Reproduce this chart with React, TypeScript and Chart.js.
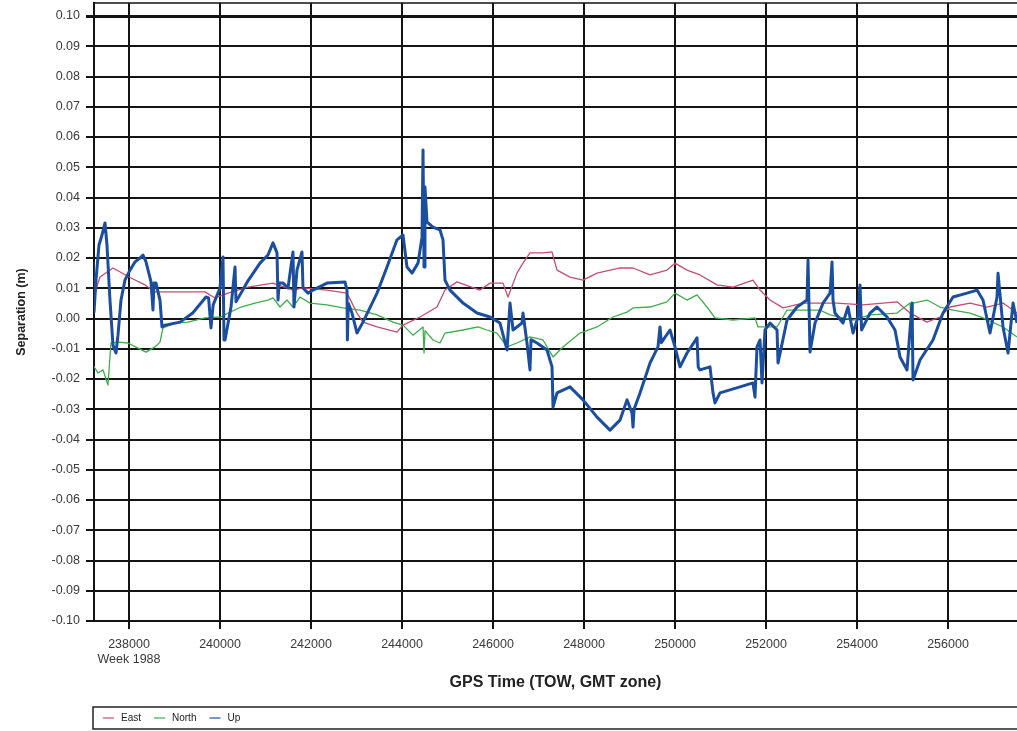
import React, { useEffect, useRef } from 'react';
import { Chart, registerables } from 'chart.js';

Chart.register(...registerables);

// ---- Axis ticks ----
const xTicks = [238000, 240000, 242000, 244000, 246000, 248000, 250000, 252000, 254000, 256000];
const yTicks = [-0.1, -0.09, -0.08, -0.07, -0.06, -0.05, -0.04, -0.03, -0.02, -0.01, 0, 0.01, 0.02, 0.03, 0.04, 0.05, 0.06, 0.07, 0.08, 0.09, 0.1];
const X_MIN = 237231;
const X_MAX = 257516;
const Y_MIN = -0.1;
const Y_MAX = 0.1043;

// ---- Series: East ----
const eastTow = [
  237209, 237363, 237648, 238044, 238352, 238571, 239297, 239670, 239890, 240176,
  240615, 241165, 241604, 241824, 242352, 242791, 243011, 243143, 243451, 243890,
  244022, 244396, 244769, 244945, 245209, 245714, 245934, 246220, 246330, 246527,
  246659, 246813, 247099, 247297, 247407, 247692, 247978, 248286, 248791, 249077,
  249451, 249824, 250000, 250264, 250549, 250923, 251275, 251714, 251868, 252088,
  252374, 252813, 253560, 254132, 254879, 255165, 255538, 255824, 256044, 256484,
  256857, 257209, 257516,
];
const eastVal = [
  0.0068, 0.0137, 0.0167, 0.0134, 0.0111, 0.0088, 0.0088, 0.0088, 0.0068, 0.0084,
  0.0104, 0.0117, 0.0094, 0.0101, 0.0094, 0.0084, 0.0018, -0.0012, -0.0028, -0.0045,
  -0.0022, 0.0005, 0.0038, 0.0094, 0.0121, 0.0094, 0.0117, 0.0117, 0.0071, 0.015,
  0.0183, 0.0217, 0.0217, 0.022, 0.016, 0.0137, 0.0127, 0.015, 0.0167, 0.0167,
  0.0144, 0.016, 0.0183, 0.016, 0.0144, 0.0111, 0.0104, 0.0127, 0.0094, 0.0061,
  0.0035, 0.0051, 0.0051, 0.0045, 0.0055, 0.0018, -0.0012, 0.0005, 0.0038, 0.0051,
  0.0038, 0.0051, 0.0018,
];

// ---- Series: North ----
const northTow = [
  237209, 237319, 237429, 237538, 237604, 237758, 237978, 238198, 238374, 238571,
  238681, 238747, 239011, 239297, 239670, 240022, 240176, 240462, 240769, 241055,
  241165, 241319, 241473, 241604, 241758, 241978, 242352, 242703, 243077, 243451,
  243802, 244022, 244242, 244462, 244484, 244506, 244681, 244835, 244945, 245341,
  245670, 245868, 246088, 246308, 246527, 246813, 247099, 247319, 247538, 247912,
  248286, 248637, 248945, 249077, 249451, 249824, 250000, 250264, 250484, 250703,
  250879, 251275, 251758, 251824, 252242, 252462, 253187, 253407, 253912, 254286,
  254879, 255165, 255209, 255231, 255538, 255824, 256110, 256484, 256769, 257209,
  257516,
];
const northVal = [
  -0.0154, -0.018, -0.017, -0.022, -0.0081, -0.0078, -0.0081, -0.0098, -0.0111, -0.0094,
  -0.0078, -0.0031, -0.0015, -0.0012, 0.0002, 0.0005, 0.0018, 0.0038, 0.0051, 0.0061,
  0.0068, 0.0038, 0.0061, 0.0038, 0.0071, 0.0051, 0.0045, 0.0035, 0.0028, 0.0012,
  -0.0012, -0.0022, -0.0055, -0.0028, -0.0114, -0.004, -0.0071, -0.0081, -0.0048, -0.0038,
  -0.0028, -0.0038, -0.0048, -0.0094, -0.0081, -0.0061, -0.0071, -0.0127, -0.0094, -0.0048,
  -0.0028, 0.0005, 0.0021, 0.0035, 0.0038, 0.0055, 0.0084, 0.0061, 0.0078, 0.0038,
  0.0002, -0.0005, 0.0002, -0.0028, -0.0028, 0.0028, 0.0028, 0.0012, -0.0005, 0.0012,
  0.0018, 0.0051, -0.0088, 0.0051, 0.0061, 0.0038, 0.0028, 0.0018, 0.0002, -0.0028,
  -0.0061,
];

// ---- Series: Up ----
const upTow = [
  237209, 237231, 237275, 237341, 237407, 237473, 237516, 237582, 237648, 237714,
  237758, 237824, 237912, 238022, 238132, 238242, 238308, 238374, 238484, 238527,
  238550, 238593, 238681, 238725, 238791, 239121, 239400, 239692, 239750, 239802,
  239850, 240000, 240066, 240088, 240110, 240242, 240330, 240352, 240600, 240879,
  241055, 241165, 241253, 241275, 241300, 241385, 241495, 241604, 241626, 241692,
  241802, 241824, 241934, 242044, 242352, 242747, 242791, 242800, 242820, 242901,
  243011, 243143, 243451, 243670, 243890, 244022, 244110, 244220, 244352, 244440,
  244462, 244484, 244505, 244549, 244681, 244835, 244901, 244945, 245055, 245341,
  245648, 245934, 246154, 246308, 246374, 246440, 246637, 246659, 246747, 246813,
  246835, 246967, 247187, 247297, 247319, 247407, 247692, 247978, 248286, 248571,
  248791, 248945, 249055, 249077, 249100, 249231, 249451, 249626, 249670, 249700,
  249890, 250000, 250110, 250264, 250484, 250510, 250549, 250769, 250835, 250879,
  250989, 251429, 251714, 251758, 251802, 251868, 251912, 251978, 252088, 252242,
  252264, 252462, 252681, 252901, 252923, 252967, 253077, 253253, 253407, 253451,
  253473, 253516, 253692, 253802, 253912, 254022, 254066, 254100, 254286, 254440,
  254659, 254835, 254945, 255099, 255209, 255231, 255385, 255670, 255890, 256110,
  256418, 256637, 256769, 256923, 257077, 257099, 257209, 257319, 257429, 257516,
];
const upVal = [
  0.0187, 0.0021, 0.0127, 0.0243, 0.0276, 0.0316, 0.0243, 0.0061, -0.0088, -0.0114,
  -0.0055, 0.0061, 0.0127, 0.016, 0.0187, 0.02, 0.021, 0.0187, 0.0121, 0.0028,
  0.0117, 0.0117, 0.0061, -0.0028, -0.0022, -0.0012, 0.0018, 0.0071, 0.0068, -0.0031,
  0.0045, 0.0101, 0.0203, -0.0071, -0.0071, 0.0038, 0.017, 0.0055, 0.0121, 0.0183,
  0.021, 0.025, 0.0217, 0.0061, 0.0117, 0.0117, 0.0101, 0.022, 0.0038, 0.016,
  0.022, 0.0101, 0.0084, 0.0094, 0.0117, 0.0121, 0.0094, -0.0071, 0.005, 0.0018,
  -0.0048, -0.0012, 0.0084, 0.017, 0.026, 0.0276, 0.017, 0.015, 0.0183, 0.0269,
  0.0557, 0.017, 0.0435, 0.0319, 0.0302, 0.0293, 0.026, 0.0127, 0.0094, 0.0051,
  0.0018, 0.0005, -0.0015, -0.0104, 0.0051, -0.0038, -0.0015, 0.0018, -0.0081, -0.017,
  -0.007, -0.0081, -0.0104, -0.016, -0.0293, -0.0246, -0.0226, -0.0269, -0.0326, -0.0369,
  -0.0336, -0.0269, -0.0312, -0.0359, -0.03, -0.0246, -0.0147, -0.0094, -0.0028, -0.008,
  -0.0038, -0.0094, -0.016, -0.0114, -0.0064, -0.016, -0.017, -0.016, -0.0246, -0.0279,
  -0.0246, -0.0226, -0.0213, -0.026, -0.0094, -0.0071, -0.0213, -0.0038, -0.0015, -0.0038,
  -0.0147, -0.0005, 0.0038, 0.0061, 0.0193, -0.0111, -0.0015, 0.0051, 0.0084, 0.0187,
  0.006, 0.0018, -0.0015, 0.0038, -0.0048, 0.0005, 0.0111, -0.0038, 0.0018, 0.0038,
  0.0005, -0.0038, -0.0127, -0.017, 0.0051, -0.0203, -0.0137, -0.0071, 0.0018, 0.0071,
  0.0084, 0.0094, 0.0061, -0.0048, 0.0071, 0.015, -0.0028, -0.0114, 0.0051, -0.0015,
];

const seriesNames = ['East', 'North', 'Up'];
const seriesColors = ['#c54d70', '#3fae4a', '#1b4e9e'];

function pts(xs: number[], ys: number[]) {
  const n = Math.min(xs.length, ys.length);
  const out: { x: number; y: number }[] = [];
  for (let i = 0; i < n; i++) out.push({ x: xs[i], y: ys[i] });
  return out;
}

const FONT = "'Liberation Sans', Arial, Helvetica, sans-serif";

export default function App() {
  const ref = useRef<HTMLCanvasElement>(null);

  useEffect(() => {
    if (!ref.current) return;
    Chart.defaults.font.family = FONT;

    const framePlugin = {
      id: 'frameTop',
      afterDraw(chart: any) {
        const { ctx, chartArea, width } = chart;
        ctx.save();
        ctx.strokeStyle = '#111';
        ctx.lineWidth = 1.5;
        ctx.beginPath();
        ctx.moveTo(chartArea.left - 1, chartArea.top);
        ctx.lineTo(width, chartArea.top);
        ctx.stroke();
        ctx.restore();
      },
    };

    const legendPlugin = {
      id: 'boxLegend',
      afterDraw(chart: any) {
        const { ctx, chartArea, width, height } = chart;
        const top = height - 24;
        const boxH = 22;
        ctx.save();
        ctx.strokeStyle = '#222';
        ctx.lineWidth = 1.5;
        ctx.strokeRect(chartArea.left - 1, top, width, boxH);
        ctx.font = `10px ${FONT}`;
        ctx.textBaseline = 'middle';
        ctx.textAlign = 'left';
        const cy = top + boxH / 2;
        let x = chartArea.left + 9;
        chart.data.datasets.forEach((ds: any) => {
          ctx.strokeStyle = ds.borderColor;
          ctx.lineWidth = 1.2;
          ctx.beginPath();
          ctx.moveTo(x, cy);
          ctx.lineTo(x + 11, cy);
          ctx.stroke();
          x += 18;
          ctx.fillStyle = '#222';
          ctx.fillText(ds.label, x, cy);
          x += ctx.measureText(ds.label).width + 13;
        });
        ctx.restore();
      },
    };

    const chart = new Chart(ref.current, {
      type: 'line',
      data: {
        datasets: [
          { label: seriesNames[0], data: pts(eastTow, eastVal), borderColor: seriesColors[0], borderWidth: 1.3, order: 1 },
          { label: seriesNames[1], data: pts(northTow, northVal), borderColor: seriesColors[1], borderWidth: 1.3, order: 2 },
          { label: seriesNames[2], data: pts(upTow, upVal), borderColor: seriesColors[2], borderWidth: 3, order: 0 },
        ],
      },
      options: {
        responsive: false,
        animation: false,
        devicePixelRatio: 1,
        layout: { padding: { top: 3, left: 0, right: 0, bottom: 30 } },
        elements: { point: { radius: 0 }, line: { tension: 0, borderJoinStyle: 'round' } },
        plugins: { legend: { display: false }, tooltip: { enabled: false } },
        scales: {
          x: {
            type: 'linear',
            min: X_MIN,
            max: X_MAX,
            afterBuildTicks: (s: any) => { s.ticks = xTicks.map((v) => ({ value: v })); },
            afterFit: (s: any) => { s.height = 80; s.paddingLeft = 0; s.paddingRight = 0; },
            grid: { color: '#141414', lineWidth: 2, tickLength: 8, drawTicks: true },
            border: { display: true, color: '#141414', width: 2 },
            ticks: {
              autoSkip: false,
              maxRotation: 0,
              padding: 8,
              color: '#3a3a3a',
              font: { size: 12.5 },
              callback: (v: any) => (v === xTicks[0] ? [String(v), 'Week 1988'] : String(v)),
            },
            title: {
              display: true,
              text: 'GPS Time (TOW, GMT zone)',
              color: '#222',
              font: { size: 16, weight: 'bold' },
              padding: { top: 4, bottom: 9 },
            },
          },
          y: {
            type: 'linear',
            min: Y_MIN,
            max: Y_MAX,
            afterBuildTicks: (s: any) => { s.ticks = yTicks.map((v) => ({ value: v })); },
            afterFit: (s: any) => { s.width = 94; s.paddingTop = 0; s.paddingBottom = 0; },
            grid: {
              color: '#141414',
              lineWidth: (c: any) => (c.tick && Math.abs(c.tick.value - 0.1) < 1e-9 ? 3 : 2),
              tickLength: 8,
              drawTicks: true,
            },
            border: { display: true, color: '#141414', width: 2 },
            ticks: {
              padding: 6,
              color: '#3a3a3a',
              font: { size: 12.5 },
              callback: (v: any) => (Math.abs(v) < 1e-9 ? '0.00' : Number(v).toFixed(2)),
            },
            title: {
              display: true,
              text: 'Separation (m)',
              color: '#222',
              font: { size: 12.5, weight: 'bold' },
              padding: { top: 14, bottom: 0 },
            },
          },
        },
      } as any,
      plugins: [framePlugin, legendPlugin],
    });

    return () => chart.destroy();
  }, []);

  return (
    <div style={{ position: 'absolute', left: 0, top: 0, width: 1017, height: 731, background: '#fff', overflow: 'hidden' }}>
      <canvas ref={ref} width={1017} height={731} style={{ display: 'block' }} />
    </div>
  );
}
